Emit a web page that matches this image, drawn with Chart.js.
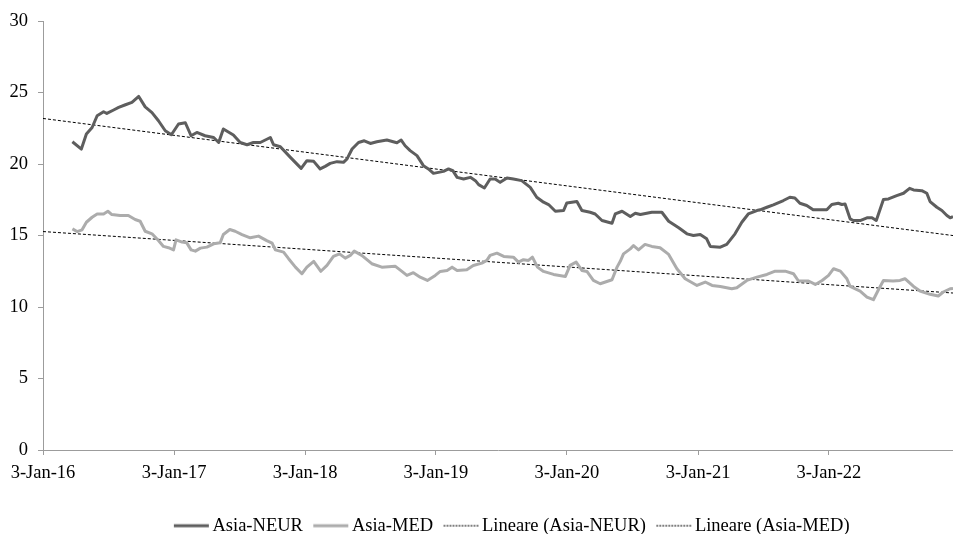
<!DOCTYPE html>
<html>
<head>
<meta charset="utf-8">
<script src="https://cdn.jsdelivr.net/npm/chart.js@4"></script>
<style>
  body { margin: 0; background: #fff; }
  #wrap { width: 953px; height: 534px; }
</style>
</head>
<body>
<div id="wrap"><canvas id="myChart" width="953" height="534"></canvas></div>
<script>
// Asia-NEUR (linea scura)
const neurDates = ['2016-03-25','2016-04-19','2016-05-03','2016-05-19','2016-06-02','2016-06-20','2016-06-29','2016-07-18','2016-08-01','2016-08-20','2016-09-07','2016-09-26','2016-10-14','2016-11-02','2016-11-20','2016-12-09','2016-12-26',
  '2017-01-15','2017-02-03','2017-02-19','2017-03-07','2017-03-30','2017-04-23','2017-05-07','2017-05-20','2017-06-17','2017-07-06','2017-07-25','2017-08-12','2017-08-31','2017-09-28','2017-10-07','2017-10-26','2017-11-23','2017-12-23',
  '2018-01-08','2018-01-27','2018-02-14','2018-02-28','2018-03-14','2018-04-02','2018-04-20','2018-04-30','2018-05-14','2018-06-01','2018-06-17','2018-07-04','2018-07-22','2018-08-19','2018-09-16','2018-09-28','2018-10-09','2018-10-23','2018-11-11','2018-11-29','2018-12-13','2018-12-27',
  '2019-01-10','2019-01-24','2019-02-07','2019-02-19','2019-03-03','2019-03-21','2019-04-09','2019-04-23','2019-05-02','2019-05-18','2019-06-03','2019-06-17','2019-07-01','2019-07-20','2019-08-07','2019-08-30','2019-09-23','2019-10-11','2019-10-30','2019-11-13','2019-12-02','2019-12-25',
  '2020-01-03','2020-01-31','2020-02-14','2020-03-08','2020-03-22','2020-04-10','2020-05-08','2020-05-17','2020-06-05','2020-06-28','2020-07-12','2020-07-26','2020-08-27','2020-09-24','2020-10-13','2020-11-10','2020-12-03','2020-12-21',
  '2021-01-09','2021-01-27','2021-02-06','2021-03-06','2021-03-24','2021-04-16','2021-05-05','2021-05-23','2021-06-16','2021-06-25','2021-07-14','2021-08-01','2021-08-29','2021-09-16','2021-09-30','2021-10-14','2021-11-02','2021-11-20','2021-12-28',
  '2022-01-11','2022-01-29','2022-02-08','2022-02-17','2022-03-03','2022-03-12','2022-03-31','2022-04-19','2022-05-03','2022-05-15','2022-06-04','2022-06-18','2022-07-11','2022-07-30','2022-08-16','2022-08-27','2022-09-19','2022-10-03','2022-10-12','2022-10-31','2022-11-14','2022-11-28','2022-12-07','2022-12-15'];
const neurValues = [21.56,21.05,22.1,22.56,23.38,23.66,23.54,23.78,23.96,24.15,24.31,24.73,24.0,23.6,23.03,22.33,22.05,
  22.8,22.89,21.98,22.21,21.98,21.86,21.51,22.45,22.03,21.51,21.35,21.51,21.51,21.86,21.35,21.21,20.47,19.7,
  20.24,20.19,19.66,19.84,20.05,20.17,20.12,20.36,21.05,21.51,21.63,21.44,21.56,21.68,21.49,21.68,21.28,20.94,20.59,19.89,19.66,19.35,
  19.42,19.49,19.66,19.54,19.07,18.96,19.07,18.84,18.56,18.33,18.96,18.96,18.72,19.03,18.96,18.84,18.37,17.68,17.33,17.17,16.7,16.75,
  17.28,17.38,16.75,16.63,16.51,16.05,15.86,16.51,16.7,16.33,16.56,16.47,16.63,16.63,16.0,15.54,15.12,15.0,
  15.07,14.77,14.24,14.19,14.38,15.12,15.93,16.51,16.75,16.8,16.98,17.15,17.45,17.68,17.63,17.26,17.1,16.8,16.8,
  17.17,17.26,17.17,17.21,16.17,16.05,16.05,16.24,16.24,16.05,17.52,17.56,17.79,17.96,18.3,18.19,18.14,17.96,17.38,16.98,16.75,16.4,16.24,16.33];

// Asia-MED (linea chiara)
const medDates = ['2016-03-25','2016-04-07','2016-04-21','2016-05-03','2016-05-19','2016-06-02','2016-06-20','2016-07-02','2016-07-13','2016-08-05','2016-08-28','2016-09-16','2016-09-30','2016-10-14','2016-11-02','2016-11-20','2016-12-04','2016-12-18',
  '2017-01-01','2017-01-08','2017-01-25','2017-02-07','2017-02-19','2017-03-03','2017-03-17','2017-04-04','2017-04-23','2017-05-11','2017-05-20','2017-06-07','2017-06-22','2017-07-11','2017-08-03','2017-08-26','2017-09-18','2017-10-03','2017-10-12','2017-11-04','2017-11-18','2017-12-07','2017-12-25',
  '2018-01-08','2018-01-27','2018-02-16','2018-03-05','2018-03-23','2018-04-09','2018-04-25','2018-05-09','2018-05-20','2018-06-10','2018-07-08','2018-08-05','2018-09-11','2018-09-30','2018-10-14','2018-11-01','2018-11-20','2018-12-10',
  '2019-01-01','2019-01-15','2019-02-03','2019-02-17','2019-03-03','2019-03-30','2019-04-17','2019-05-11','2019-05-25','2019-06-03','2019-06-22','2019-07-11','2019-08-07','2019-08-21','2019-09-04','2019-09-18','2019-09-29','2019-10-13','2019-10-30','2019-11-27','2019-12-30',
  '2020-01-12','2020-01-29','2020-02-14','2020-02-28','2020-03-17','2020-04-05','2020-05-08','2020-05-22','2020-05-31','2020-06-09','2020-06-28','2020-07-07','2020-07-21','2020-08-08','2020-08-27','2020-09-19','2020-10-13','2020-11-05','2020-11-28','2020-12-31',
  '2021-01-23','2021-02-11','2021-03-06','2021-04-07','2021-04-21','2021-05-19','2021-06-16','2021-07-14','2021-08-06','2021-09-03','2021-09-26','2021-10-10','2021-11-07','2021-11-26','2021-12-15',
  '2022-01-02','2022-01-16','2022-02-04','2022-02-22','2022-03-03','2022-03-31','2022-04-19','2022-05-07','2022-05-21','2022-06-04','2022-07-01','2022-07-20','2022-08-03','2022-08-27','2022-09-14','2022-10-12','2022-11-04','2022-11-18','2022-12-07','2022-12-15'];
const medValues = [15.47,15.28,15.4,15.93,16.28,16.51,16.51,16.7,16.47,16.4,16.4,16.12,16.0,15.3,15.12,14.65,14.24,14.15,
  14.0,14.7,14.54,14.49,14.0,13.91,14.12,14.19,14.42,14.49,15.07,15.42,15.3,15.07,14.84,14.96,14.65,14.47,14.0,13.84,13.38,12.79,12.33,
  12.79,13.2,12.5,12.91,13.54,13.72,13.42,13.61,13.91,13.61,13.03,12.79,12.86,12.49,12.21,12.4,12.09,11.86,
  12.21,12.49,12.56,12.79,12.56,12.61,12.91,13.07,13.26,13.61,13.77,13.54,13.49,13.14,13.31,13.26,13.49,12.79,12.49,12.28,12.14,
  12.91,13.14,12.56,12.49,11.86,11.63,11.91,12.79,13.2,13.72,14.07,14.3,14.0,14.38,14.24,14.15,13.68,12.68,11.98,11.51,
  11.75,11.51,11.44,11.28,11.35,11.86,12.09,12.28,12.51,12.51,12.33,11.82,11.82,11.58,11.86,
  12.21,12.68,12.51,11.98,11.44,11.12,10.7,10.51,11.21,11.86,11.82,11.86,11.98,11.44,11.12,10.89,10.77,11.05,11.28,11.3];

// linee di tendenza (estremi)
const trendDates = ['2016-01-03', '2022-12-15'];
const neurTrend = [23.19, 15.0];
const medTrend = [15.28, 10.98];

const xTickDates = ['2016-01-03','2017-01-03','2018-01-03','2019-01-03','2020-01-03','2021-01-03','2022-01-03'];
const xTickLabels = ['3-Jan-16','3-Jan-17','3-Jan-18','3-Jan-19','3-Jan-20','3-Jan-21','3-Jan-22'];

function punti(dates, values) {
  return dates.map((d, i) => ({ x: Date.parse(d), y: values[i] }));
}

// campione di linea per la legenda (35px, spostato a sinistra per avvicinare il testo)
function campione(colore, spessore, tratteggio) {
  const c = document.createElement('canvas');
  c.width = 42;
  c.height = 8;
  const g = c.getContext('2d');
  g.strokeStyle = colore;
  g.lineWidth = spessore;
  g.setLineDash(tratteggio);
  g.beginPath();
  g.moveTo(6, 4);
  g.lineTo(41, 4);
  g.stroke();
  return c;
}

const font = { family: 'Liberation Serif', size: 18.5 };
const grigioAsse = '#9c9c9c';

// sposta la legenda come nell'originale
const spostaLegenda = {
  id: 'spostaLegenda',
  afterLayout(chart) {
    const l = chart.legend;
    l.top += 11; l.bottom += 11;
    l.left += 35.5; l.right += 35.5;
  }
};

const ctx = document.getElementById('myChart').getContext('2d');
const myChart = new Chart(ctx, {
  type: 'line',
  data: {
    datasets: [{
      label: 'Asia-NEUR',
      data: punti(neurDates, neurValues),
      borderColor: '#5e5e5e',
      borderWidth: 3,
      pointRadius: 0,
      pointStyle: campione('#5e5e5e', 3, []),
      tension: 0,
      borderJoinStyle: 'round'
    }, {
      label: 'Asia-MED',
      data: punti(medDates, medValues),
      borderColor: '#acacac',
      borderWidth: 3,
      pointRadius: 0,
      pointStyle: campione('#acacac', 3, []),
      tension: 0,
      borderJoinStyle: 'round'
    }, {
      label: 'Lineare (Asia-NEUR)',
      data: punti(trendDates, neurTrend),
      borderColor: '#000',
      borderWidth: 1,
      borderDash: [3, 2],
      pointRadius: 0,
      pointStyle: campione('#000', 1, [2, 1])
    }, {
      label: 'Lineare (Asia-MED)',
      data: punti(trendDates, medTrend),
      borderColor: '#000',
      borderWidth: 1,
      borderDash: [3, 2],
      pointRadius: 0,
      pointStyle: campione('#000', 1, [2, 1])
    }]
  },
  options: {
    responsive: false,
    animation: false,
    layout: { padding: { top: 20, right: 0, bottom: 0, left: 0 } },
    plugins: {
      tooltip: { enabled: false },
      legend: {
        position: 'bottom',
        labels: {
          usePointStyle: true,
          pointStyleWidth: 28.75,
          padding: 11,
          color: '#000',
          font: font
        }
      }
    },
    scales: {
      x: {
        type: 'linear',
        min: Date.parse('2016-01-03'),
        max: Date.parse('2022-12-15'),
        afterBuildTicks: (axis) => {
          axis.ticks = xTickDates.map(d => ({ value: Date.parse(d) }));
        },
        afterFit: (scale) => { scale.height = 44.5; },
        ticks: {
          autoSkip: false,
          maxRotation: 0,
          padding: 7,
          color: '#000',
          font: font,
          callback: (value, index) => xTickLabels[index]
        },
        grid: { drawOnChartArea: false, tickLength: 5, color: grigioAsse },
        border: { color: grigioAsse }
      },
      y: {
        min: 0,
        max: 30,
        afterFit: (scale) => { scale.width = 43; },
        ticks: { stepSize: 5, padding: 10, color: '#000', font: font },
        grid: { drawOnChartArea: false, tickLength: 5, color: grigioAsse },
        border: { color: grigioAsse }
      }
    }
  },
  plugins: [spostaLegenda]
});
</script>
</body>
</html>
